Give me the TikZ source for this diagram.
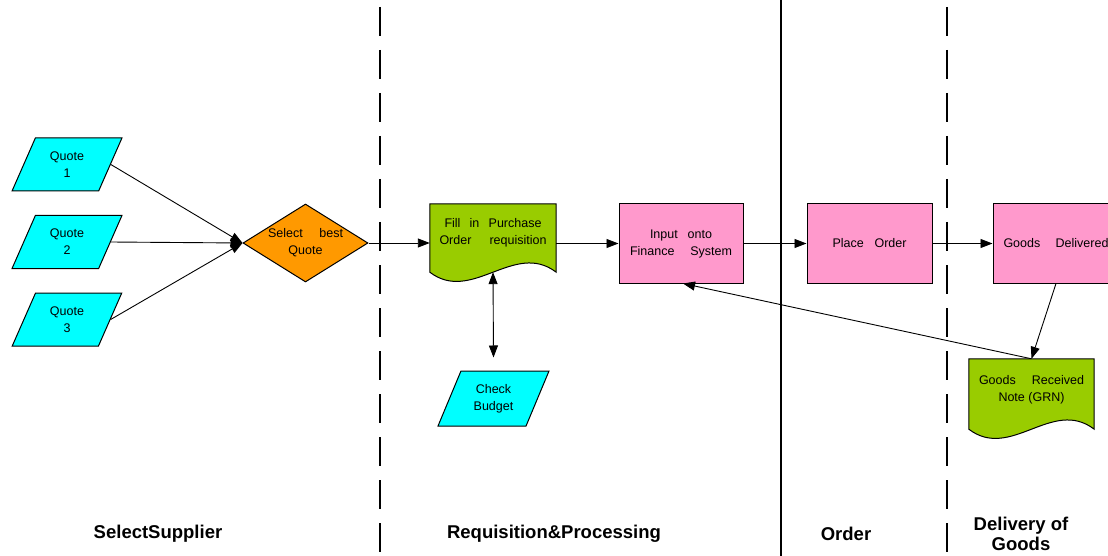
\documentclass[tikz,border=0pt]{standalone}
\usepackage{fontspec}
\setmainfont{Liberation Sans}
\usetikzlibrary{arrows.meta,shapes.geometric,calc,backgrounds}
\definecolor{qcyan}{RGB}{0,255,255}
\definecolor{qorange}{RGB}{255,153,0}
\definecolor{qgreen}{RGB}{153,204,0}
\definecolor{qpink}{RGB}{255,153,204}
\begin{document}
\begin{tikzpicture}[x=1pt,y=-1pt,
  txt/.style={font=\fontsize{12.5pt}{17pt}\selectfont, align=center, inner sep=0pt},
  para/.style={txt, trapezium, trapezium left angle=64, trapezium right angle=116,
    trapezium stretches=true, draw, line width=1pt, fill=qcyan, minimum width=110pt, minimum height=53pt},
  dia/.style={txt, diamond, aspect=1.6, draw, line width=1pt, fill=qorange, minimum width=125pt, minimum height=78pt},
  procbox/.style={txt, rectangle, draw, line width=1pt, fill=qpink, minimum width=124pt, minimum height=79pt},
  docbox/.style={txt, rectangle, draw=none, minimum width=126pt},
  docshape/.style={draw, line width=1pt, fill=qgreen},
  arr/.style={line width=0.9pt, -{Triangle[length=12pt,width=9pt]}},
  arrboth/.style={line width=0.9pt, {Triangle[length=12pt,width=9pt]}-{Triangle[length=12pt,width=9pt]}},
  lane/.style={line width=1.3pt},
  lanedash/.style={lane, dash pattern=on 29pt off 14pt},
  lbl/.style={font=\fontsize{18.5pt}{20pt}\selectfont\bfseries, align=center, inner sep=0pt}]
\useasboundingbox (0,0) rectangle (1108,556);
\clip (0,0) rectangle (1108,556);

% lanes
\draw[lanedash] (380,7) -- (380,556);
\draw[lane] (781,0) -- (781,556);
\draw[lanedash] (947,7) -- (947,556);

% nodes
\node[para] (q1) at (67,164.5) {Quote\\1};
\node[para] (q2) at (67,242) {Quote\\2};
\node[para] (q3) at (67,319.5) {Quote\\3};
\node[dia] (sel) at (305.5,243) {\makebox[75pt][s]{Select best}\\Quote};
\node[docbox, minimum height=57pt] (fill) at (493,232.5)
  {\makebox[97pt][s]{Fill in Purchase}\\\makebox[107pt][s]{Order requisition}};
\node[procbox] (inp) at (681,243.5) {\makebox[62pt][s]{Input onto}\\\makebox[102pt][s]{Finance System}};
\node[procbox, minimum width=125pt] (po) at (869.5,243.5) {\makebox[74pt][s]{Place Order}};
\node[procbox, minimum width=126pt] (gd) at (1056,243.5) {\makebox[105pt][s]{Goods Delivered}};
\node[docbox, minimum width=125pt, minimum height=61pt] (grn) at (1031.5,389.5)
  {\makebox[105pt][s]{Goods Received}\\Note (GRN)};
\node[para, minimum width=111pt, minimum height=55pt] (cb) at (493.5,398.5) {Check\\Budget};

\begin{scope}[on background layer]
\path[docshape] (fill.north west) -- (fill.north east) -- ($(fill.south east)+(0,11)$)
  .. controls ($(fill.south east)+(-42,-21)$) and ($(fill.south west)+(42,43)$) ..
  ($(fill.south west)+(0,11)$) -- cycle;
\path[docshape] (grn.north west) -- (grn.north east) -- ($(grn.south east)+(0,9)$)
  .. controls ($(grn.south east)+(-42,-23)$) and ($(grn.south west)+(42,41)$) ..
  ($(grn.south west)+(0,9)$) -- cycle;
\end{scope}

% connectors
\draw[arr] (q1.east) -- (sel.west);
\draw[arr] (q2.east) -- (sel.west);
\draw[arr] (q3.east) -- (sel.west);
\draw[arr] (sel.east) -- (sel.east -| fill.west);
\draw[arr] (inp.west -| fill.east) -- (inp.west);
\draw[arr] (inp.east) -- (po.west);
\draw[arr] (po.east) -- (gd.west);
\draw[arr] (gd.south) -- (grn.north);
\draw[arr] (grn.north) -- ($(inp.south)+(2,0)$);
\draw[arrboth] ($(fill.south)+(0,11)$) -- ($(cb.north)+(0,-13)$);

% lane labels
\node[lbl] (l1) at (158,534) {SelectSupplier};
\node[lbl] (l2) at (554,534) {Requisition\&Processing};
\node[lbl] (l3) at (846,534) {Order};
\node[lbl] (l4) at (1021,534) {Delivery of\\Goods};
\end{tikzpicture}
\end{document}
